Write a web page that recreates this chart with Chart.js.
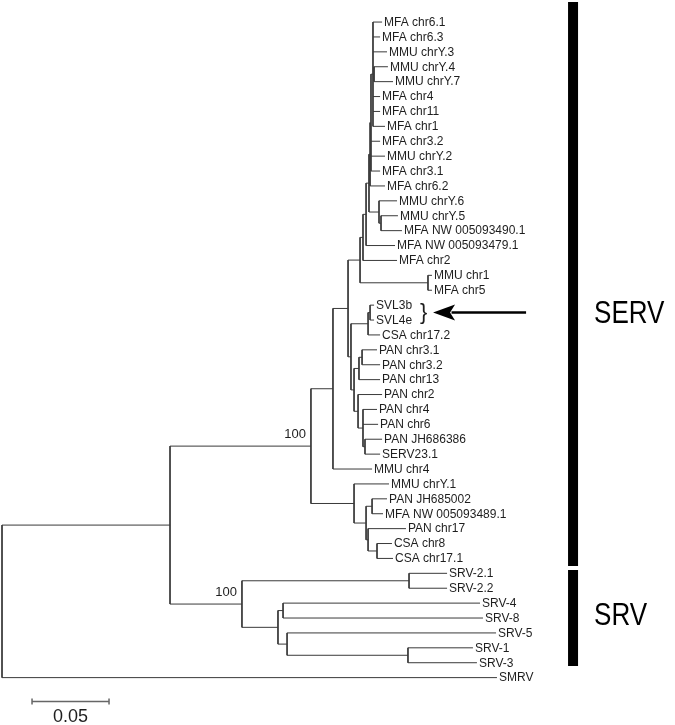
<!DOCTYPE html>
<html lang="en">
<head>
<meta charset="UTF-8">
<title>SERV / SRV tree</title>
<script src="https://cdn.jsdelivr.net/npm/chart.js"></script>
<style>
  body { margin: 0; background: #fff; }
  #wrap { width: 675px; height: 725px; }
</style>
</head>
<body>
<div id="wrap"><canvas id="tree"></canvas></div>
<script>
// tip names, top to bottom (row index = y value)
const leaves = [
  'MFA chr6.1', 'MFA chr6.3', 'MMU chrY.3', 'MMU chrY.4', 'MMU chrY.7', 'MFA chr4',
  'MFA chr11', 'MFA chr1', 'MFA chr3.2', 'MMU chrY.2', 'MFA chr3.1', 'MFA chr6.2',
  'MMU chrY.6', 'MMU chrY.5', 'MFA NW 005093490.1', 'MFA NW 005093479.1', 'MFA chr2',
  'MMU chr1', 'MFA chr5', 'SVL3b', 'SVL4e', 'CSA chr17.2', 'PAN chr3.1', 'PAN chr3.2',
  'PAN chr13', 'PAN chr2', 'PAN chr4', 'PAN chr6', 'PAN JH686386', 'SERV23.1', 'MMU chr4',
  'MMU chrY.1', 'PAN JH685002', 'MFA NW 005093489.1', 'PAN chr17', 'CSA chr8', 'CSA chr17.1',
  'SRV-2.1', 'SRV-2.2', 'SRV-4', 'SRV-8', 'SRV-5', 'SRV-1', 'SRV-3', 'SMRV'
];

// distance from the root to each tip
const tipDist = [
  0.2468, 0.2455, 0.2500, 0.2506, 0.2539, 0.2455,
  0.2455, 0.2487, 0.2455, 0.2487, 0.2455, 0.2487,
  0.2565, 0.2571, 0.2597, 0.2552, 0.2565,
  0.2792, 0.2792, 0.2416, 0.2416, 0.2455, 0.2435, 0.2455,
  0.2455, 0.2468, 0.2435, 0.2442, 0.2468, 0.2455, 0.2403,
  0.2513, 0.2500, 0.2474, 0.2623, 0.2532, 0.2539,
  0.2890, 0.2890, 0.3104, 0.3123, 0.3208, 0.3058, 0.3084, 0.3214
];

// internal nodes: name, distance from root, children (tip index or node name)
// listed so that children always come before their parent
const clades = [
  ['y47', 0.2416, [3, 4]],
  ['a', 0.2409, [0, 1, 2, 'y47', 5, 6, 7]],
  ['b', 0.2396, ['a', 8, 9, 10]],
  ['c', 0.2390, ['b', 11]],
  ['y5', 0.2461, [13, 14]],
  ['y6', 0.2448, [12, 'y5']],
  ['d', 0.2383, ['c', 'y6']],
  ['e', 0.2364, ['d', 15]],
  ['f', 0.2344, ['e', 16]],
  ['mc1', 0.2766, [17, 18]],
  ['g', 0.2325, ['f', 'mc1']],
  ['svl', 0.2390, [19, 20]],
  ['csa', 0.2377, ['svl', 21]],
  ['p31', 0.2338, [22, 23]],
  ['p13', 0.2318, ['p31', 24]],
  ['p365', 0.2357, [28, 29]],
  ['p4', 0.2344, [26, 27, 'p365']],
  ['p2', 0.2312, [25, 'p4']],
  ['pan', 0.2286, ['p13', 'p2']],
  ['svlpan', 0.2266, ['csa', 'pan']],
  ['h', 0.2247, ['g', 'svlpan']],
  ['i', 0.2149, ['h', 30]],
  ['jh', 0.2403, [32, 33]],
  ['cs8', 0.2435, [35, 36]],
  ['p17', 0.2377, [34, 'cs8']],
  ['k', 0.2364, ['jh', 'p17']],
  ['l', 0.2286, [31, 'k']],
  ['serv', 0.2006, ['i', 'l']],
  ['srv2', 0.2643, [37, 38]],
  ['srv48', 0.1825, [39, 40]],
  ['srv13', 0.2636, [42, 43]],
  ['srv5', 0.1851, [41, 'srv13']],
  ['srvb', 0.1792, ['srv48', 'srv5']],
  ['srv', 0.1558, ['srv2', 'srvb']],
  ['ingroup', 0.1091, ['serv', 'srv']],
  ['root', 0, ['ingroup', 44]]
];

const bootstrap = [['serv', '100'], ['srv', '100']];

// group bars: label, first row, last row, row of the label
const groups = [['SERV', -1.35, 36.5, 19.6], ['SRV', 36.78, 43.22, 39.9]];
const groupX = 0.3708;

// arrow pointing at SVL3b / SVL4e
const arrowRow = 19.5;
const arrowFrom = 0.3403;
const arrowTo = 0.2799;
const braceX = 0.2714;

const scaleLen = 0.05;
const scaleStart = 0.0195;
const scaleRow = 45.6;

// node positions
const nodeX = {}, nodeY = {};
function posOf(c) {
  return typeof c === 'number' ? { x: tipDist[c], y: c } : { x: nodeX[c], y: nodeY[c] };
}
clades.forEach(([name, d, kids]) => {
  nodeX[name] = d;
  nodeY[name] = (posOf(kids[0]).y + posOf(kids[kids.length - 1]).y) / 2;
});

// tree drawn as one line dataset broken by null points
const treePts = [];
clades.forEach(([name, d, kids]) => {
  const first = posOf(kids[0]), last = posOf(kids[kids.length - 1]);
  treePts.push({ x: d, y: first.y }, { x: d, y: last.y }, { x: d, y: null });
  kids.forEach(k => {
    const p = posOf(k);
    treePts.push({ x: d, y: p.y }, { x: p.x, y: p.y }, { x: p.x, y: null });
  });
});

const scaleEnd = scaleStart + scaleLen;
const scalePts = [
  { x: scaleStart, y: scaleRow }, { x: scaleEnd, y: scaleRow }, { x: scaleEnd, y: null },
  { x: scaleStart, y: scaleRow - 0.2 }, { x: scaleStart, y: scaleRow + 0.2 }, { x: scaleStart, y: null },
  { x: scaleEnd, y: scaleRow - 0.2 }, { x: scaleEnd, y: scaleRow + 0.2 }
];

const barPts = [];
groups.forEach(g => barPts.push({ x: groupX, y: g[1] }, { x: groupX, y: g[2] }, { x: groupX, y: null }));

const arrowPts = [{ x: arrowFrom, y: arrowRow }, { x: arrowTo + 0.012, y: arrowRow }];

const labelPlugin = {
  id: 'treeLabels',
  afterDatasetsDraw(chart) {
    const ctx = chart.ctx, xs = chart.scales.x, ys = chart.scales.y;
    ctx.save();
    ctx.fillStyle = '#1e1e1e';

    // tip labels
    ctx.font = '12px "Liberation Sans", Arial, sans-serif';
    ctx.textAlign = 'left';
    ctx.textBaseline = 'middle';
    leaves.forEach((n, i) => {
      ctx.fillText(n, xs.getPixelForValue(tipDist[i]) + 2, ys.getPixelForValue(i) + 0.5);
    });

    // bootstrap values
    ctx.font = '13px "Liberation Sans", Arial, sans-serif';
    ctx.textAlign = 'right';
    ctx.textBaseline = 'alphabetic';
    bootstrap.forEach(([n, t]) => {
      ctx.fillText(t, xs.getPixelForValue(nodeX[n]) - 5, ys.getPixelForValue(nodeY[n]) - 8);
    });

    // group names, narrow lettering
    ctx.font = '31px "Liberation Sans", Arial, sans-serif';
    ctx.textAlign = 'left';
    ctx.textBaseline = 'middle';
    groups.forEach(([name, a, b, row]) => {
      ctx.save();
      ctx.translate(xs.getPixelForValue(groupX) + 21, ys.getPixelForValue(row));
      ctx.scale(0.84, 1);
      ctx.fillStyle = '#000';
      ctx.fillText(name, 0, 0);
      ctx.restore();
    });

    // brace and arrow head
    const ay = ys.getPixelForValue(arrowRow);
    ctx.font = '22px "Liberation Sans", Arial, sans-serif';
    ctx.fillText('}', xs.getPixelForValue(braceX), ay);
    const tip = xs.getPixelForValue(arrowTo);
    ctx.fillStyle = '#000';
    ctx.beginPath();
    ctx.moveTo(tip, ay);
    ctx.lineTo(tip + 22, ay - 8);
    ctx.lineTo(tip + 17, ay);
    ctx.lineTo(tip + 22, ay + 8);
    ctx.closePath();
    ctx.fill();

    // scale bar text
    ctx.fillStyle = '#1e1e1e';
    ctx.font = '18px "Liberation Sans", Arial, sans-serif';
    ctx.textAlign = 'center';
    ctx.textBaseline = 'alphabetic';
    ctx.fillText(String(scaleLen), xs.getPixelForValue(scaleStart + scaleLen / 2), ys.getPixelForValue(scaleRow) + 21);
    ctx.restore();
  }
};

new Chart(document.getElementById('tree'), {
  type: 'line',
  data: {
    datasets: [
      { data: treePts, borderColor: '#3a3a3a', borderWidth: 1, pointRadius: 0, spanGaps: false, tension: 0 },
      { data: scalePts, borderColor: '#666', borderWidth: 1.5, pointRadius: 0, spanGaps: false },
      { data: barPts, borderColor: '#000', borderWidth: 10, pointRadius: 0, spanGaps: false },
      { data: arrowPts, borderColor: '#000', borderWidth: 2.5, pointRadius: 0 }
    ]
  },
  options: {
    responsive: true,
    maintainAspectRatio: false,
    animation: false,
    events: [],
    layout: { padding: 0 },
    plugins: { legend: { display: false }, tooltip: { enabled: false } },
    scales: {
      x: { type: 'linear', display: false, min: -0.0013, max: 0.437 },
      y: { type: 'linear', display: false, reverse: true, min: -1.48, max: 47.18 }
    }
  },
  plugins: [labelPlugin]
});
</script>
</body>
</html>
